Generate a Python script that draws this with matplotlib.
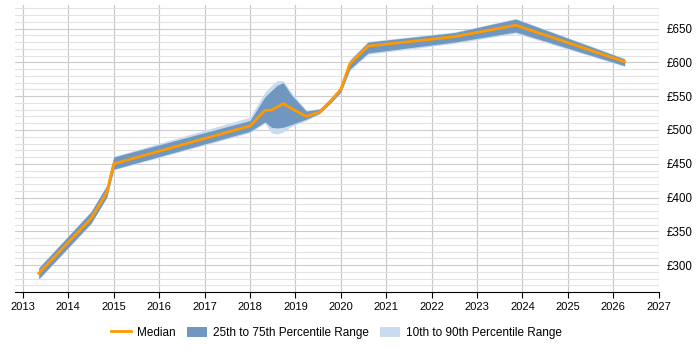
import numpy as np
import matplotlib.pyplot as plt
from matplotlib.patches import Patch
from matplotlib.lines import Line2D
from matplotlib.ticker import MultipleLocator, FuncFormatter

plt.rcParams['font.family'] = ['Liberation Sans', 'DejaVu Sans']

# time points (decimal years) and percentile values (GBP per day)
years = [2013.35, 2014.5, 2014.85, 2015.0, 2018.0, 2018.33, 2018.47, 2018.6,
         2018.73, 2018.91, 2019.24, 2019.54, 2019.79, 2020.0, 2020.2, 2020.6,
         2022.5, 2023.85, 2026.25]
p10 = [279, 361, 400, 441, 496, 510, 496, 494, 497, 505, 514, 524, 540, 555,
       588, 612, 628, 643, 594]
p25 = [280, 362, 401, 442, 498, 512, 504, 503, 504, 508, 516, 525, 541, 556,
       590, 614, 630, 645, 595]
median = [288, 369, 408, 450, 506, 529, 529.5, 534, 539, 532, 520, 527, 544,
          560, 598, 624, 638, 655, 601]
p75 = [296, 379, 418, 460, 514, 549, 558, 566, 570, 552, 528, 531, 547, 563,
       603, 630, 644, 664, 605]
p90 = [297, 380, 419, 461, 519, 556, 566, 573, 573, 556, 529, 532, 548, 564,
       604, 631, 645, 665, 606]

dark = '#7097bf'
light = '#c9dbee'
orange = '#ff9900'

fig = plt.figure(figsize=(7, 3.5), dpi=100)
ax = fig.add_axes([0.021, 0.165, 0.92, 0.821])

ax.fill_between(years, p10, p90, color=light, lw=0, zorder=2)
ax.fill_between(years, p25, p75, color=dark, lw=0, zorder=3)
ax.plot(years, median, color=orange, lw=2, zorder=4)

ax.set_xlim(2012.82, 2027)
ax.set_ylim(260, 685)
ax.xaxis.set_major_locator(MultipleLocator(1))
ax.xaxis.set_major_formatter(FuncFormatter(lambda v, p: f'{int(v)}'))
ax.yaxis.set_major_locator(MultipleLocator(50))
ax.yaxis.set_minor_locator(MultipleLocator(10))
ax.yaxis.set_major_formatter(FuncFormatter(lambda v, p: f'£{int(v)}'))
ax.yaxis.tick_right()

ax.grid(axis='x', which='major', color='#c8c8c8', lw=0.8, zorder=0)
ax.grid(axis='y', which='major', color='#cccccc', lw=0.8, zorder=0)
ax.grid(axis='y', which='minor', color='#e3e3e3', lw=0.8, zorder=0)

for s in ['top', 'left', 'right']:
    ax.spines[s].set_visible(False)
ax.spines['bottom'].set_color('black')
ax.tick_params(axis='x', length=4, color='black', labelsize=8, pad=3)
ax.tick_params(axis='y', which='both', length=0, labelsize=8.3, pad=6)

handles = [Line2D([0], [0], color=orange, lw=2),
           Patch(facecolor=dark, edgecolor='none'),
           Patch(facecolor=light, edgecolor='none')]
labels = ['Median', '25th to 75th Percentile Range', '10th to 90th Percentile Range']
fig.legend(handles, labels, loc='center', bbox_to_anchor=(0.481, 0.049), ncol=3,
           frameon=False, fontsize=8.5, handlelength=1.7, handleheight=0.9,
           columnspacing=0.95, handletextpad=0.5)

fig.savefig('out.png', dpi=100)
